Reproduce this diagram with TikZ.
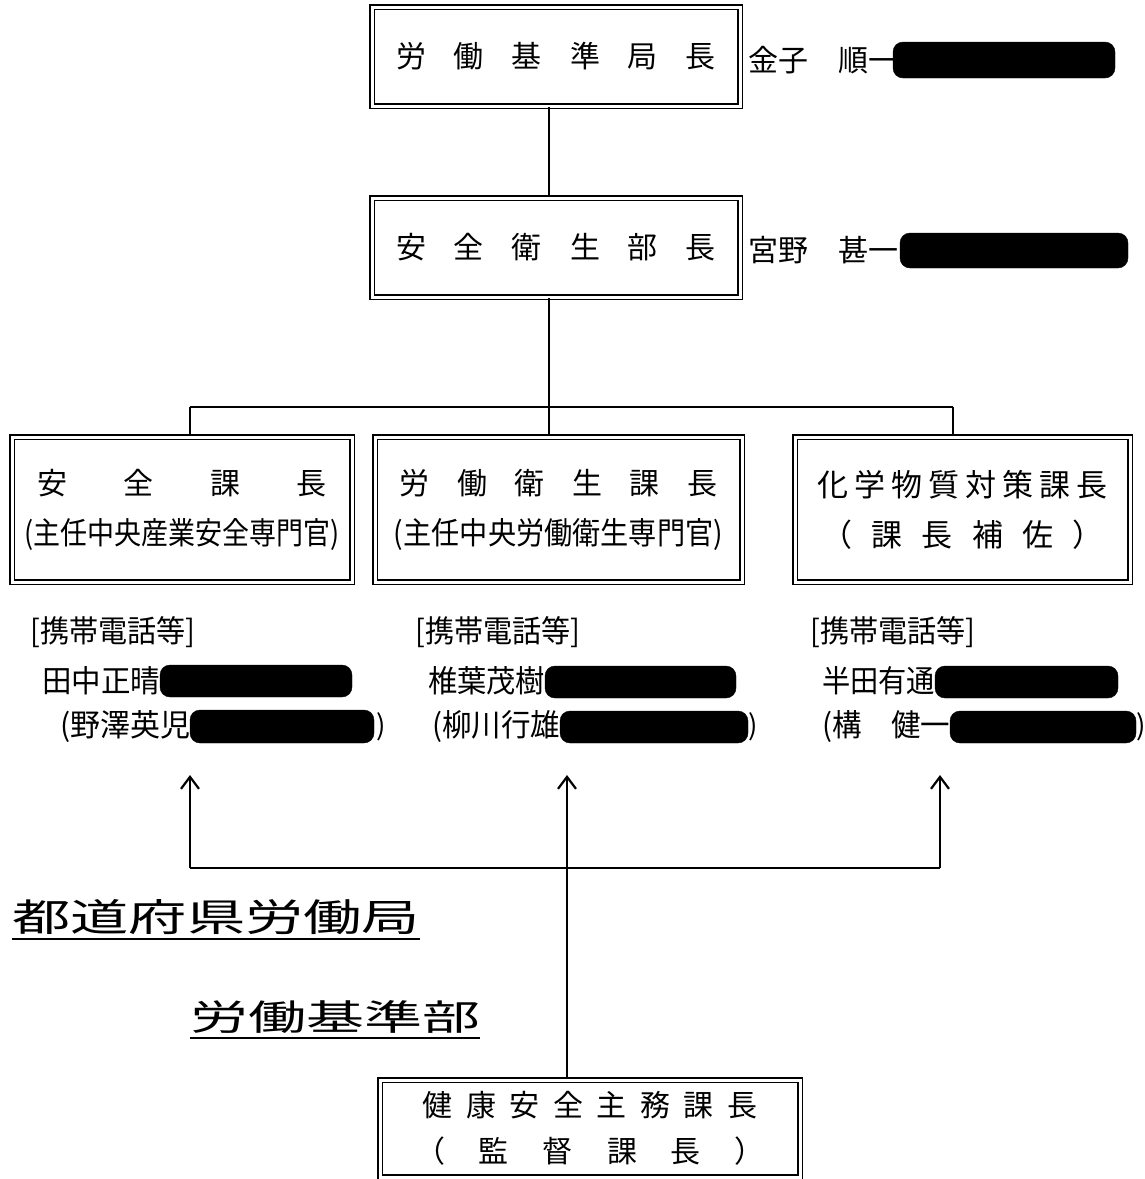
\documentclass[tikz,border=0pt]{standalone}
\usepackage{fontspec}
\usepackage{graphicx}
\setmainfont{Noto Sans CJK JP}
\usetikzlibrary{arrows.meta}
\newcommand{\fs}[1]{\fontsize{#1}{#1}\selectfont}
\tikzset{
  dbox/.style={draw, line width=1.7pt, double, double distance=3pt, inner sep=0pt, align=center},
  blob/.style={fill=black, rounded corners=10pt},
  conn/.style={line width=2.4pt},
  arr/.style={line width=2.4pt, -{Straight Barb[length=12pt,width=18pt,line width=2.2pt]}},
  txt/.style={inner sep=0pt, anchor=west},
  ctxt/.style={inner sep=0pt},
}
\begin{document}
\begin{tikzpicture}[x=1pt,y=-1pt]
\useasboundingbox (0,0) rectangle (1145,1179);
% boxes
\node[dbox, minimum width=368pt, minimum height=99pt] (kyoku) at (556,56.5)
  {\raisebox{-3pt}{\fs{30}\makebox[320pt]{労\hfill 働\hfill 基\hfill 準\hfill 局\hfill 長}}};
\node[dbox, minimum width=368pt, minimum height=99pt] (bu) at (556,247.5)
  {\raisebox{-3pt}{\fs{30}\makebox[320pt]{安\hfill 全\hfill 衛\hfill 生\hfill 部\hfill 長}}};
\node[dbox, minimum width=340pt, minimum height=145pt, font=\fontsize{30}{50}\selectfont] (ka1) at (182,509.5)
  {\makebox[290pt]{安\hfill 全\hfill 課\hfill 長}\\
   \resizebox{315pt}{26pt}{(主任中央産業安全専門官)}};
\node[dbox, minimum width=367pt, minimum height=145pt, font=\fontsize{30}{50}\selectfont] (ka2) at (558.5,509.5)
  {\makebox[318pt]{労\hfill 働\hfill 衛\hfill 生\hfill 課\hfill 長}\\
   \resizebox{329pt}{26pt}{(主任中央労働衛生専門官)}};
\node[dbox, minimum width=335pt, minimum height=145pt, font=\fontsize{31}{50}\selectfont] (ka3) at (962.5,509.5)
  {\makebox[290pt]{化\hfill 学\hfill 物\hfill 質\hfill 対\hfill 策\hfill 課\hfill 長}\\
   \makebox[282pt]{（\hfill 課\hfill 長\hfill 補\hfill 佐\hfill ）}};
\node[dbox, minimum width=420pt, minimum height=97pt, font=\fontsize{30}{46}\selectfont] (kan) at (590,1128.5)
  {\makebox[335pt]{健\hfill 康\hfill 安\hfill 全\hfill 主\hfill 務\hfill 課\hfill 長}\\
   \makebox[350pt]{（\hfill 監\hfill 督\hfill 課\hfill 長\hfill ）}};
% names at top
\node[txt, font=\fs{30}] (n1) at (748,60) {金子　順一};
\draw[blob] (893,42) rectangle (1115,78);
\node[txt, font=\fs{30}] (n2) at (748,250) {宮野　甚一};
\draw[blob] (900,233) rectangle (1128,268);
% column 1
\node[txt] (m1) at (30,632) {\resizebox{165pt}{26pt}{\fs{30}[携帯電話等]}};
\node[txt] (p1) at (42,681) {\resizebox{118pt}{26pt}{\fs{30}田中正晴}};
\draw[blob] (160,665) rectangle (352,697);
\node[txt] (q1) at (60,727) {\resizebox{130pt}{26pt}{\fs{30}(野澤英児}};
\draw[blob] (190,710) rectangle (374,743);
\node[txt, font=\fs{28}] (r1) at (376,727) {)};
% column 2
\node[txt] (m2) at (415,632) {\resizebox{165pt}{26pt}{\fs{30}[携帯電話等]}};
\node[txt] (p2) at (428,681) {\resizebox{117pt}{26pt}{\fs{30}椎葉茂樹}};
\draw[blob] (545,666) rectangle (736,698);
\node[txt] (q2) at (432,727) {\resizebox{128pt}{26pt}{\fs{30}(柳川行雄}};
\draw[blob] (560,711) rectangle (748,743);
\node[txt, font=\fs{28}] (r2) at (748,727) {)};
% column 3
\node[txt] (m3) at (810,632) {\resizebox{165pt}{26pt}{\fs{30}[携帯電話等]}};
\node[txt] (p3) at (822,681) {\resizebox{113pt}{26pt}{\fs{30}半田有通}};
\draw[blob] (935,666) rectangle (1118,698);
\node[txt] (q3) at (822,727) {\resizebox{128pt}{26pt}{\fs{30}(構　健一}};
\draw[blob] (950,711) rectangle (1136,743);
\node[txt, font=\fs{28}] (r3) at (1136,727) {)};
% headings
\node[txt] (h1t) at (12,917) {\resizebox{408pt}{32pt}{\fs{36}都道府県労働局}};
\draw[line width=2pt] (h1t.south west) ++(0,4) coordinate (u1a) -- (u1a -| h1t.south east);
\node[txt] (h2t) at (190,1017) {\resizebox{290pt}{30pt}{\fs{36}労働基準部}};
\draw[line width=2pt] (h2t.south west) ++(0,4) coordinate (u2a) -- (u2a -| h2t.south east);
% connectors
\draw[conn] ([xshift=-7pt]kyoku.south) -- ([xshift=-7pt]bu.north);
\coordinate (j) at (549,407);
\coordinate (jl) at (190,407);
\coordinate (jr) at (953,407);
\draw[conn] ([xshift=-7pt]bu.south) -- (j);
\draw[conn] (jl) -- (jr);
\draw[conn] (jl) -- (jl |- ka1.north);
\draw[conn] (j) -- (j |- ka2.north);
\draw[conn] (jr) -- (jr |- ka3.north);
% arrows
\coordinate (a1) at (190,775);
\coordinate (a2) at (567,775);
\coordinate (a3) at (940,775);
\coordinate (b1) at (190,868);
\coordinate (b3) at (940,868);
\draw[conn] (b1) -- (b3);
\draw[arr] (b1) -- (a1);
\draw[arr] (b3) -- (a3);
\draw[arr] (a2 |- kan.north) -- (a2);
\end{tikzpicture}
\end{document}
